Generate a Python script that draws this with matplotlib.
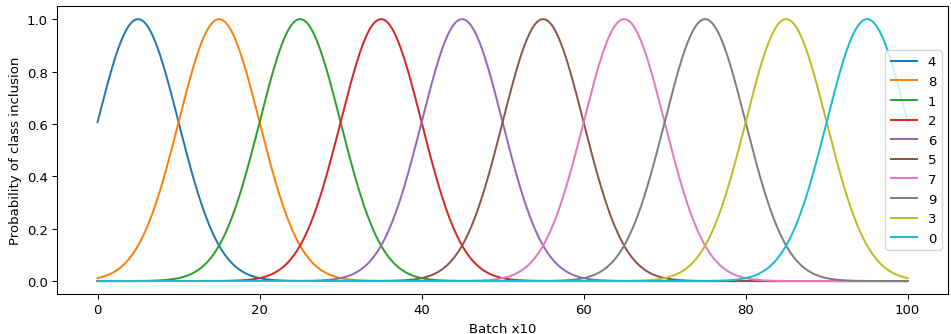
import numpy as np
import matplotlib.pyplot as plt

# class labels in legend order, with the batch (x10) where each peaks
labels = ['4', '8', '1', '2', '6', '5', '7', '9', '3', '0']
centers = [5, 15, 25, 35, 45, 55, 65, 75, 85, 95]
width = 5.0  # spread of each bump, read from the crossings at ~0.6

x = np.linspace(0, 100, 1000)

fig = plt.figure(figsize=(10, 3.5226), dpi=95.1)
ax = fig.add_axes([0.06, 0.119, 0.937, 0.86])

for lab, c in zip(labels, centers):
    ax.plot(x, np.exp(-(x - c) ** 2 / (2 * width ** 2)), label=lab)

ax.set_xlabel('Batch x10')
ax.set_ylabel('Probability of class inclusion')
ax.legend(loc='center right')

fig.savefig('out.png', dpi=95.1)
